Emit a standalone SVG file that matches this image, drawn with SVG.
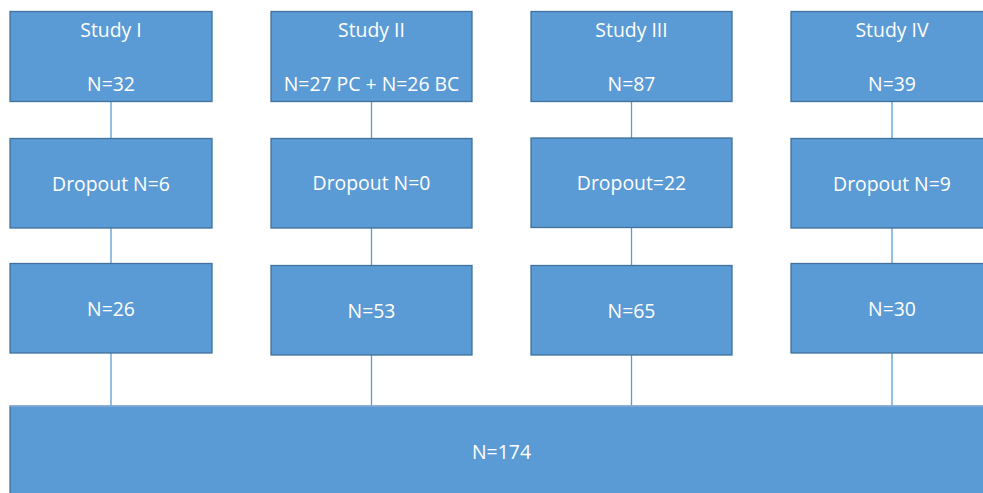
<svg xmlns="http://www.w3.org/2000/svg" width="983" height="493" viewBox="0 0 983 493">
<style>
.box{fill:#5B9BD5;stroke:#41719C;stroke-width:1.3}
.t{font-family:"Open Sans","Liberation Sans",sans-serif;font-size:19.4px;fill:#fff;text-anchor:middle}
.c{stroke:#5B9BD5;stroke-width:1.3;fill:none}
</style>
<rect width="983" height="493" fill="#fff"/>
<g id="connectors">
<line class="c" x1="111" y1="101" x2="111" y2="138"/>
<line class="c" x1="111" y1="228" x2="111" y2="264"/>
<line class="c" x1="111" y1="353" x2="111" y2="406"/>
<line class="c" x1="371.5" y1="101" x2="371.5" y2="138"/>
<line class="c" x1="371.5" y1="228" x2="371.5" y2="265"/>
<line class="c" x1="371.5" y1="355" x2="371.5" y2="406"/>
<line class="c" x1="631.5" y1="101" x2="631.5" y2="138"/>
<line class="c" x1="631.5" y1="228" x2="631.5" y2="265"/>
<line class="c" x1="631.5" y1="355" x2="631.5" y2="406"/>
<line class="c" x1="892" y1="101" x2="892" y2="138"/>
<line class="c" x1="892" y1="228" x2="892" y2="264"/>
<line class="c" x1="892" y1="353" x2="892" y2="406"/>
</g>
<g id="study1"><rect class="box" x="10" y="11.5" width="202" height="90"/><text class="t" x="111" y="37">Study I</text><text class="t" x="111" y="91">N=32</text></g>
<g id="study2"><rect class="box" x="271" y="11.5" width="201" height="90"/><text class="t" x="371.5" y="37">Study II</text><text class="t" x="371.5" y="91">N=27 PC + N=26 BC</text></g>
<g id="study3"><rect class="box" x="531" y="11.5" width="201" height="90"/><text class="t" x="631.5" y="37">Study III</text><text class="t" x="631.5" y="91">N=87</text></g>
<g id="study4"><rect class="box" x="791" y="11.5" width="202" height="90"/><text class="t" x="892" y="37">Study IV</text><text class="t" x="892" y="91">N=39</text></g>
<g id="drop1"><rect class="box" x="10" y="138.5" width="202" height="89.5"/><text class="t" x="111" y="191">Dropout N=6</text></g>
<g id="drop2"><rect class="box" x="271" y="138.5" width="201" height="89.5"/><text class="t" x="371.5" y="190">Dropout N=0</text></g>
<g id="drop3"><rect class="box" x="531" y="138" width="201" height="89.5"/><text class="t" x="631.5" y="189.5">Dropout=22</text></g>
<g id="drop4"><rect class="box" x="791" y="138.5" width="202" height="89.5"/><text class="t" x="892" y="190.5">Dropout N=9</text></g>
<g id="res1"><rect class="box" x="10" y="263.5" width="202" height="89.5"/><text class="t" x="111" y="316">N=26</text></g>
<g id="res2"><rect class="box" x="271" y="265.5" width="201" height="89.5"/><text class="t" x="371.5" y="318">N=53</text></g>
<g id="res3"><rect class="box" x="531" y="265.5" width="201" height="89.5"/><text class="t" x="631.5" y="318">N=65</text></g>
<g id="res4"><rect class="box" x="791" y="263.5" width="202" height="89.5"/><text class="t" x="892" y="316">N=30</text></g>
<g id="total"><rect x="10" y="406" width="985" height="100" fill="#5B9BD5" stroke="#41719C" stroke-width="1.3"/><line x1="10" y1="406" x2="983" y2="406" stroke="#8FB5DC" stroke-width="1.3"/><text class="t" x="501.5" y="458.5">N=174</text></g>
</svg>
